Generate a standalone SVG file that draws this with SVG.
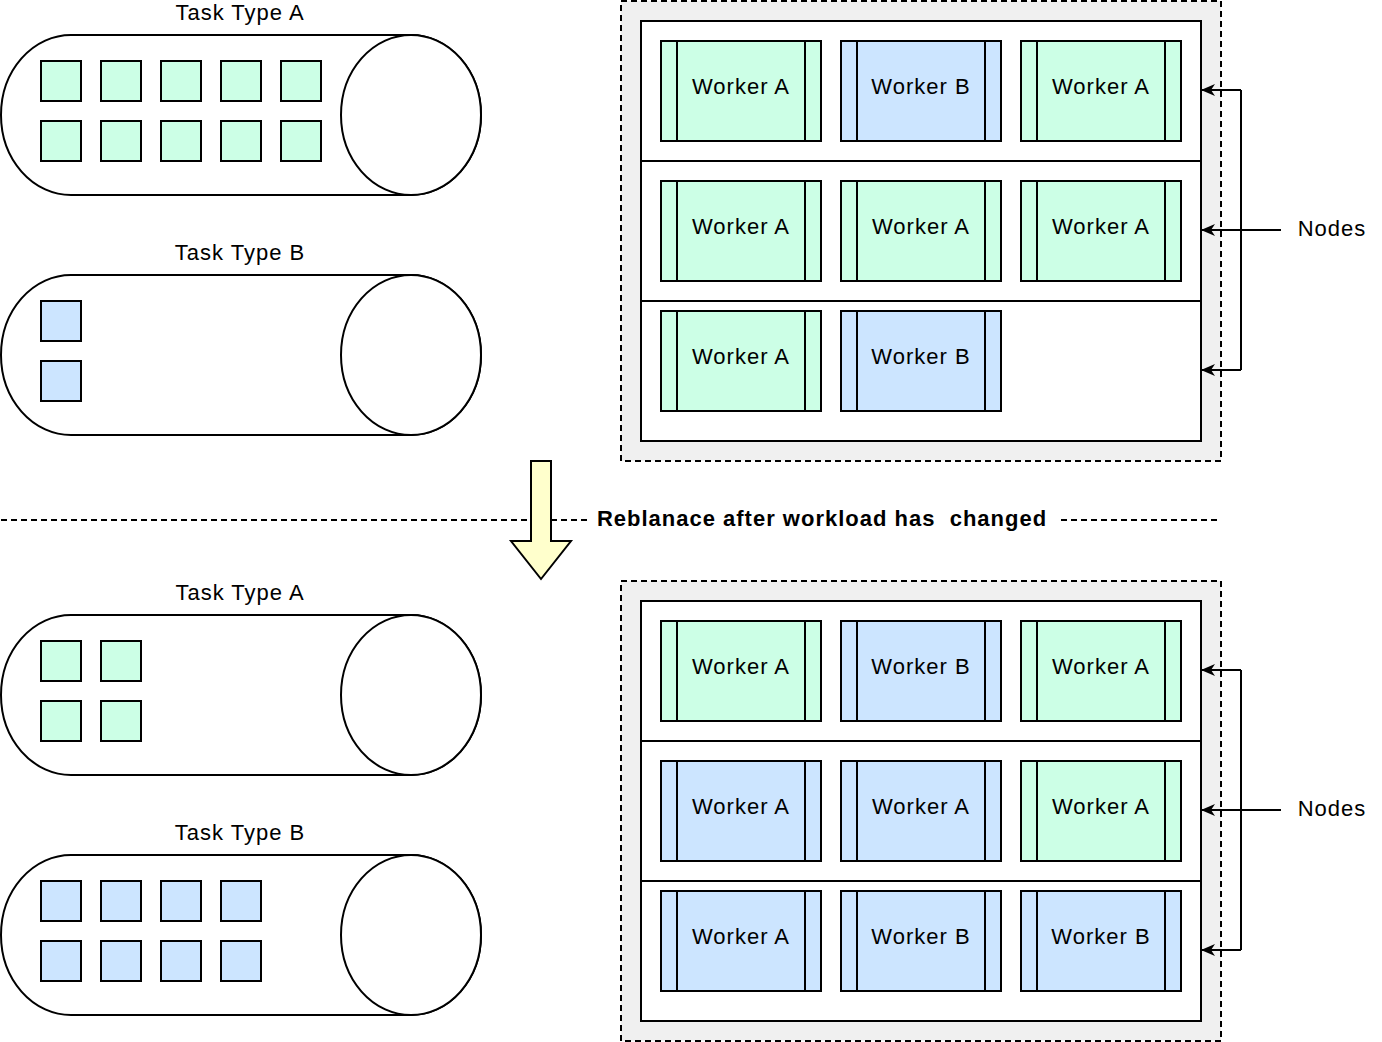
<svg xmlns="http://www.w3.org/2000/svg" width="1382" height="1042" viewBox="0 0 1382 1042">
<defs>
<style>
text{font-family:"Liberation Sans",Arial,sans-serif;font-size:22px;fill:#000;letter-spacing:1px;white-space:pre}
.c{text-anchor:middle;dominant-baseline:central}
.ln{fill:none;stroke:#000;stroke-width:2}
.sq{stroke:#000;stroke-width:2}
.ga{fill:#CCFFE6}
.bb{fill:#CCE5FF}
.cyl{fill:#fff;stroke:#000;stroke-width:2}
.cont{fill:#F0F0F0;stroke:#000;stroke-width:2;stroke-dasharray:6 4}
.inner{fill:#fff;stroke:#000;stroke-width:2}
</style>
<marker id="ah" viewBox="0 0 14 12" refX="13" refY="6" markerWidth="14" markerHeight="12" markerUnits="userSpaceOnUse" orient="auto">
<path d="M0,0 L14,6 L0,12 L4,6 Z" fill="#000"/>
</marker>
<g id="cylshape">
<path class="cyl" d="M71,0 L411,0 A70,80 0 0 1 411,160 L71,160 A70,80 0 0 1 71,0 Z"/>
<ellipse class="cyl" cx="411" cy="80" rx="70" ry="80"/>
</g>
<g id="wk">
<rect class="sq" x="0" y="0" width="160" height="100"/>
<line class="ln" x1="16" y1="0" x2="16" y2="100"/>
<line class="ln" x1="144" y1="0" x2="144" y2="100"/>
</g>
</defs>
<rect width="1382" height="1042" fill="#fff"/>

<!-- divider line and label -->
<g id="divider">
<line x1="1" y1="520" x2="1221" y2="520" stroke="#000" stroke-width="2" stroke-dasharray="6 4"/>
<rect x="588" y="505" width="470" height="30" fill="#fff"/>
<text x="822" y="518" class="c" xml:space="preserve" style="font-weight:bold">Reblanace after workload has  changed</text>
</g>

<!-- Top Task Type A -->
<g id="top-task-a">
<text x="240" y="12" class="c">Task Type A</text>
<use href="#cylshape" x="0" y="35"/>
<g class="ga">
<rect class="sq" x="41" y="61" width="40" height="40"/><rect class="sq" x="101" y="61" width="40" height="40"/><rect class="sq" x="161" y="61" width="40" height="40"/><rect class="sq" x="221" y="61" width="40" height="40"/><rect class="sq" x="281" y="61" width="40" height="40"/>
<rect class="sq" x="41" y="121" width="40" height="40"/><rect class="sq" x="101" y="121" width="40" height="40"/><rect class="sq" x="161" y="121" width="40" height="40"/><rect class="sq" x="221" y="121" width="40" height="40"/><rect class="sq" x="281" y="121" width="40" height="40"/>
</g>
</g>

<!-- Top Task Type B -->
<g id="top-task-b">
<text x="240" y="252" class="c">Task Type B</text>
<use href="#cylshape" x="0" y="275"/>
<g class="bb">
<rect class="sq" x="41" y="301" width="40" height="40"/>
<rect class="sq" x="41" y="361" width="40" height="40"/>
</g>
</g>

<!-- Bottom Task Type A -->
<g id="bot-task-a">
<text x="240" y="592" class="c">Task Type A</text>
<use href="#cylshape" x="0" y="615"/>
<g class="ga">
<rect class="sq" x="41" y="641" width="40" height="40"/><rect class="sq" x="101" y="641" width="40" height="40"/>
<rect class="sq" x="41" y="701" width="40" height="40"/><rect class="sq" x="101" y="701" width="40" height="40"/>
</g>
</g>

<!-- Bottom Task Type B -->
<g id="bot-task-b">
<text x="240" y="832" class="c">Task Type B</text>
<use href="#cylshape" x="0" y="855"/>
<g class="bb">
<rect class="sq" x="41" y="881" width="40" height="40"/><rect class="sq" x="101" y="881" width="40" height="40"/><rect class="sq" x="161" y="881" width="40" height="40"/><rect class="sq" x="221" y="881" width="40" height="40"/>
<rect class="sq" x="41" y="941" width="40" height="40"/><rect class="sq" x="101" y="941" width="40" height="40"/><rect class="sq" x="161" y="941" width="40" height="40"/><rect class="sq" x="221" y="941" width="40" height="40"/>
</g>
</g>

<!-- Top cluster -->
<g id="top-cluster">
<rect class="cont" x="621" y="1" width="600" height="460"/>
<rect class="inner" x="641" y="21" width="560" height="420"/>
<line class="ln" x1="641" y1="161" x2="1201" y2="161"/>
<line class="ln" x1="641" y1="301" x2="1201" y2="301"/>
</g>
<g id="top-w1"><use href="#wk" x="661" y="41" class="ga"/><text x="741" y="86" class="c">Worker A</text></g>
<g id="top-w2"><use href="#wk" x="841" y="41" class="bb"/><text x="921" y="86" class="c">Worker B</text></g>
<g id="top-w3"><use href="#wk" x="1021" y="41" class="ga"/><text x="1101" y="86" class="c">Worker A</text></g>
<g id="top-w4"><use href="#wk" x="661" y="181" class="ga"/><text x="741" y="226" class="c">Worker A</text></g>
<g id="top-w5"><use href="#wk" x="841" y="181" class="ga"/><text x="921" y="226" class="c">Worker A</text></g>
<g id="top-w6"><use href="#wk" x="1021" y="181" class="ga"/><text x="1101" y="226" class="c">Worker A</text></g>
<g id="top-w7"><use href="#wk" x="661" y="311" class="ga"/><text x="741" y="356" class="c">Worker A</text></g>
<g id="top-w8"><use href="#wk" x="841" y="311" class="bb"/><text x="921" y="356" class="c">Worker B</text></g>

<!-- Bottom cluster -->
<g id="bot-cluster">
<rect class="cont" x="621" y="581" width="600" height="460"/>
<rect class="inner" x="641" y="601" width="560" height="420"/>
<line class="ln" x1="641" y1="741" x2="1201" y2="741"/>
<line class="ln" x1="641" y1="881" x2="1201" y2="881"/>
</g>
<g id="bot-w1"><use href="#wk" x="661" y="621" class="ga"/><text x="741" y="666" class="c">Worker A</text></g>
<g id="bot-w2"><use href="#wk" x="841" y="621" class="bb"/><text x="921" y="666" class="c">Worker B</text></g>
<g id="bot-w3"><use href="#wk" x="1021" y="621" class="ga"/><text x="1101" y="666" class="c">Worker A</text></g>
<g id="bot-w4"><use href="#wk" x="661" y="761" class="bb"/><text x="741" y="806" class="c">Worker A</text></g>
<g id="bot-w5"><use href="#wk" x="841" y="761" class="bb"/><text x="921" y="806" class="c">Worker A</text></g>
<g id="bot-w6"><use href="#wk" x="1021" y="761" class="ga"/><text x="1101" y="806" class="c">Worker A</text></g>
<g id="bot-w7"><use href="#wk" x="661" y="891" class="bb"/><text x="741" y="936" class="c">Worker A</text></g>
<g id="bot-w8"><use href="#wk" x="841" y="891" class="bb"/><text x="921" y="936" class="c">Worker B</text></g>
<g id="bot-w9"><use href="#wk" x="1021" y="891" class="bb"/><text x="1101" y="936" class="c">Worker B</text></g>

<!-- Nodes labels -->
<g id="nodes-top"><text x="1332" y="228" class="c">Nodes</text></g>
<g id="nodes-bot"><text x="1332" y="808" class="c">Nodes</text></g>

<!-- Yellow arrow -->
<g id="rebalance-arrow">
<path d="M531,461 L551,461 L551,541 L571,541 L541,579 L511,541 L531,541 Z" fill="#FFFFCC" stroke="#000" stroke-width="2"/>
</g>

<!-- Connectors -->
<g id="connectors">
<line class="ln" x1="1241" y1="90" x2="1241" y2="370"/>
<line class="ln" x1="1241" y1="90" x2="1202" y2="90" marker-end="url(#ah)"/>
<line class="ln" x1="1281" y1="230" x2="1202" y2="230" marker-end="url(#ah)"/>
<line class="ln" x1="1241" y1="370" x2="1202" y2="370" marker-end="url(#ah)"/>
<line class="ln" x1="1241" y1="670" x2="1241" y2="950"/>
<line class="ln" x1="1241" y1="670" x2="1202" y2="670" marker-end="url(#ah)"/>
<line class="ln" x1="1281" y1="810" x2="1202" y2="810" marker-end="url(#ah)"/>
<line class="ln" x1="1241" y1="950" x2="1202" y2="950" marker-end="url(#ah)"/>
</g>
</svg>
